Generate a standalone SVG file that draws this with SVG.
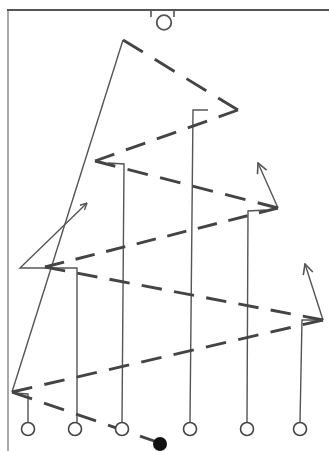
<svg xmlns="http://www.w3.org/2000/svg" width="329" height="451" viewBox="0 0 329 451">
<style>
.route{fill:none;stroke:#555;stroke-width:1.4;stroke-linejoin:miter}
.bp{fill:none;stroke:#444;stroke-width:2.9;stroke-linecap:butt}
.player{fill:#fff;stroke:#444;stroke-width:1.6}
.frame{stroke:#555;fill:none}
</style>
<defs>
<marker id="arr" viewBox="0 0 12 12" refX="11" refY="6" markerWidth="12" markerHeight="12" markerUnits="userSpaceOnUse" orient="auto">
<path d="M1,1 L11,6 L1,11" fill="none" stroke="#555" stroke-width="1.6"/>
</marker>
<marker id="arrs" viewBox="0 0 12 12" refX="11" refY="6" markerWidth="8" markerHeight="8" markerUnits="userSpaceOnUse" orient="auto">
<path d="M1,1 L11,6 L1,11" fill="none" stroke="#555" stroke-width="2"/>
</marker>
</defs>
<rect width="329" height="451" fill="#fff"/>
<g id="frame">
<line class="frame" x1="7" y1="10" x2="329" y2="10" stroke-width="2.2"/>
<line class="frame" x1="8" y1="10" x2="8" y2="451" stroke-width="1" stroke="#888"/>
</g>
<g id="defender">
<line x1="151" y1="10" x2="151" y2="17" stroke="#555" stroke-width="1.6"/>
<line x1="174" y1="10" x2="174" y2="17" stroke="#555" stroke-width="1.6"/>
<circle cx="164" cy="22.5" r="7.3" fill="#fff" stroke="#555" stroke-width="1.8"/>
</g>
<g id="connectors">
<polyline class="route" points="28,422 28,394 14,393"/>
<line class="route" x1="12" y1="392" x2="123" y2="40"/>
<polyline class="route" points="77,422 77,268 20,268 87,203" marker-end="url(#arrs)"/>
<polyline class="route" points="122,422 124,164 108,163"/>
<polyline class="route" points="190,422 193,110 208,110"/>
<polyline class="route" points="247,422 248,211 266,210"/>
<polyline class="route" points="300,422 302,320 320,320"/>
<line class="route" x1="278" y1="208" x2="258" y2="163" marker-end="url(#arr)"/>
<line class="route" x1="323" y1="320" x2="305" y2="264" marker-end="url(#arr)"/>
<line class="bp" x1="160" y1="443" x2="12" y2="392" pathLength="100" stroke-dasharray="13.51 8.11"/>
<line class="bp" x1="12" y1="392" x2="323" y2="320" pathLength="100" stroke-dasharray="6.494 3.896"/>
<line class="bp" x1="323" y1="320" x2="45" y2="267" pathLength="100" stroke-dasharray="7.246 4.348"/>
<line class="bp" x1="45" y1="267" x2="278" y2="208" pathLength="100" stroke-dasharray="8.197 4.918"/>
<line class="bp" x1="278" y1="208" x2="95" y2="161" pathLength="100" stroke-dasharray="11.111 6.667"/>
<line class="bp" x1="95" y1="161" x2="238" y2="110" pathLength="100" stroke-dasharray="13.51 8.11"/>
<line class="bp" x1="238" y1="110" x2="123" y2="40" pathLength="100" stroke-dasharray="17.24 10.34"/>
</g>
<g id="p1"><circle class="player" cx="28" cy="429" r="6.5"/></g>
<g id="p2"><circle class="player" cx="75" cy="429" r="6.5"/></g>
<g id="p3"><circle class="player" cx="122" cy="429" r="6.5"/></g>
<g id="p4"><circle class="player" cx="190" cy="429" r="6.5"/></g>
<g id="p5"><circle class="player" cx="247" cy="429" r="6.5"/></g>
<g id="p6"><circle class="player" cx="300" cy="429" r="6.5"/></g>
<g id="ball"><circle cx="160" cy="444" r="7" fill="#111"/></g>
</svg>
